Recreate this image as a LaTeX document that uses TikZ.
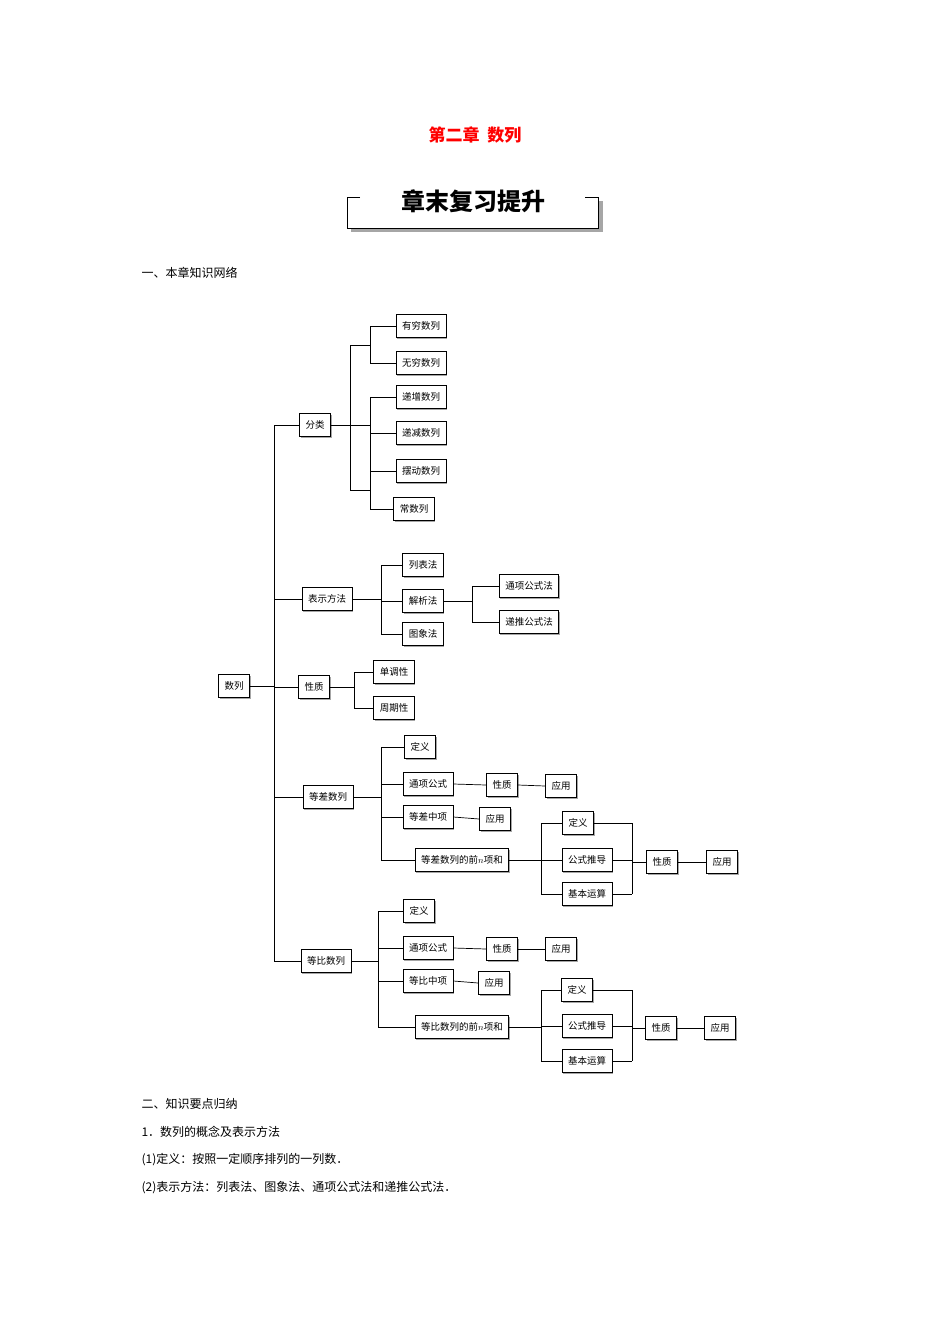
\documentclass[tikz,border=0pt]{standalone}
\usepackage{fontspec}
\setmainfont{Noto Sans CJK SC}
\usetikzlibrary{shadows}
\begin{document}
\begin{tikzpicture}[x=1pt,y=-1pt,
  bx/.style={draw,fill=white,line width=0.8pt,minimum height=23pt,inner xsep=6pt,font=\fontsize{9.5}{10}\selectfont,
    drop shadow={shadow xshift=1.2pt,shadow yshift=-1.2pt,fill=black!35,opacity=1}},
  ln/.style={line width=0.7pt},
  txt/.style={anchor=west,font=\fontsize{12}{14}\selectfont}]
\useasboundingbox (0,0) rectangle (950,1344);
\node[font=\fontsize{17}{18}\selectfont\bfseries,text=red] (title) at (475,135) {第二章\ \ 数列};
\fill[black!35] (351,201) rectangle (603,232);
\fill[white] (347,197) rectangle (598,228);
\draw[line width=0.7pt] (360,197) -- (347,197) -- (347,228) -- (598,228) -- (598,197) -- (585,197);
\node[font=\fontsize{24}{26}\selectfont\bfseries] (sub) at (473,201) {章末复习提升};
\node[txt] (h1) at (138,273) {一、本章知识网络};
\node[txt] (h2) at (138,1104) {二、知识要点归纳};
\node[txt] (h3) at (138,1132) {1．数列的概念及表示方法};
\node[txt] (h4) at (138,1160) {(1)定义：按照一定顺序排列的一列数．};
\node[txt] (h5) at (138,1188) {(2)表示方法：列表法、图象法、通项公式法和递推公式法．};

\node[bx] (sl) at (234,686) {数列};
\node[bx] (fl) at (315,425) {分类};
\node[bx] (a1) at (421,326) {有穷数列};
\node[bx] (a2) at (421,363) {无穷数列};
\node[bx] (a3) at (421,397) {递增数列};
\node[bx] (a4) at (421,433) {递减数列};
\node[bx] (a5) at (421,471) {摆动数列};
\node[bx] (a6) at (414,509) {常数列};
\node[bx] (bs) at (327,599) {表示方法};
\node[bx] (b1) at (423,565) {列表法};
\node[bx] (b2) at (423,601) {解析法};
\node[bx] (b3) at (423,634) {图象法};
\node[bx] (b4) at (529,586) {通项公式法};
\node[bx] (b5) at (529,622) {递推公式法};
\node[bx] (xz) at (314,687) {性质};
\node[bx] (c1) at (394,672) {单调性};
\node[bx] (c2) at (394,708) {周期性};
% arithmetic
\node[bx] (dc) at (328,797) {等差数列};
\node[bx] (d1) at (420,747) {定义};
\node[bx] (d2) at (428,784) {通项公式};
\node[bx] (d3) at (502,785) {性质};
\node[bx] (d4) at (561,786) {应用};
\node[bx] (d5) at (428,817) {等差中项};
\node[bx] (d6) at (495,819) {应用};
\node[bx] (d7) at (462,860) {等差数列的前$n$项和};
\node[bx] (d8) at (578,823) {定义};
\node[bx] (d9) at (587,860) {公式推导};
\node[bx] (d10) at (587,894) {基本运算};
\node[bx] (d11) at (662,862) {性质};
\node[bx] (d12) at (722,862) {应用};
% geometric
\node[bx] (gc) at (326,961) {等比数列};
\node[bx] (g1) at (419,911) {定义};
\node[bx] (g2) at (428,948) {通项公式};
\node[bx] (g3) at (502,949) {性质};
\node[bx] (g4) at (561,949) {应用};
\node[bx] (g5) at (428,981) {等比中项};
\node[bx] (g6) at (494,983) {应用};
\node[bx] (g7) at (462,1027) {等比数列的前$n$项和};
\node[bx] (g8) at (577,990) {定义};
\node[bx] (g9) at (587,1026) {公式推导};
\node[bx] (g10) at (587,1061) {基本运算};
\node[bx] (g11) at (661,1028) {性质};
\node[bx] (g12) at (720,1028) {应用};

\coordinate (m) at (274,0);
\draw[ln] (sl.east) -- (sl.east -| m);
\draw[ln] (m |- fl.west) -- (m |- gc.west);
\foreach \n in {fl,bs,xz,dc,gc} \draw[ln] (\n.west) -- (\n.west -| m);
% fenlei
\draw[ln] (fl.east) -- (370,425);
\draw[ln] (350,345) -- (350,490);
\draw[ln] (350,345) -- (370,345); \draw[ln] (350,490) -- (370,490);
\draw[ln] (370,326) -- (370,363); \draw[ln] (370,397) -- (370,509);
\foreach \n in {a1,a2,a3,a4,a5,a6} \draw[ln] (\n.west) -- (370,0 |- \n.west);
% biaoshi
\coordinate (k) at (381,0);
\draw[ln] (bs.east) -- (bs.east -| k);
\draw[ln] (k |- b1.west) -- (k |- b3.west);
\foreach \n in {b1,b2,b3} \draw[ln] (\n.west) -- (\n.west -| k);
\coordinate (k2) at (472,0);
\draw[ln] (b2.east) -- (b2.east -| k2);
\draw[ln] (k2 |- b4.west) -- (k2 |- b5.west);
\foreach \n in {b4,b5} \draw[ln] (\n.west) -- (\n.west -| k2);
% xingzhi
\coordinate (k3) at (354,0);
\draw[ln] (xz.east) -- (xz.east -| k3);
\draw[ln] (k3 |- c1.west) -- (k3 |- c2.west);
\foreach \n in {c1,c2} \draw[ln] (\n.west) -- (\n.west -| k3);
% dengcha / dengbi
\foreach \p/\X in {d/381,g/378}{
  \coordinate (q) at (\X,0);
  \draw[ln] (\p c.east) -- (\p c.east -| q);
  \draw[ln] (q |- \p1.west) -- (q |- \p7.west);
  \foreach \n in {1,2,5,7} \draw[ln] (\p\n.west) -- (\p\n.west -| q);
  \draw[ln] (\p2.east) -- (\p3.west);
  \draw[ln] (\p3.east) -- (\p4.west);
  \draw[ln] (\p5.east) -- (\p6.west);
  \coordinate (r) at (541,0);
  \draw[ln] (\p7.east) -- (\p7.east -| r);
  \draw[ln] (r |- \p8.west) -- (r |- \p10.west);
  \foreach \n in {8,9,10} \draw[ln] (\p\n.west) -- (\p\n.west -| r);
  \coordinate (s) at (632,0);
  \draw[ln] (s |- \p8.east) -- (s |- \p10.east);
  \foreach \n in {8,9,10} \draw[ln] (\p\n.east) -- (\p\n.east -| s);
  \draw[ln] (\p11.west) -- (\p11.west -| s);
  \draw[ln] (\p11.east) -- (\p12.west);
}
\end{tikzpicture}
\end{document}
